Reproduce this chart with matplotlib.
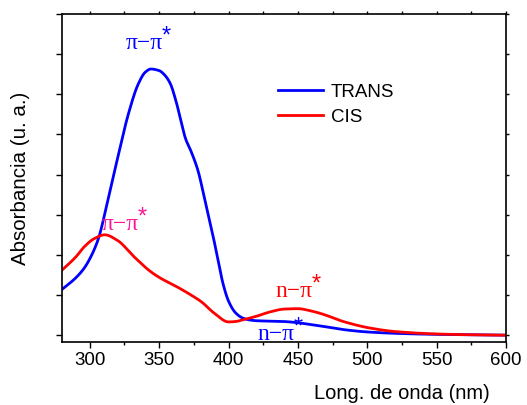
import numpy as np
import matplotlib.pyplot as plt
from matplotlib.ticker import MultipleLocator, NullFormatter

# UV-vis absorption spectra, trans and cis isomers
wl_trans = [280, 290, 296, 300, 306, 313, 320, 328, 335, 340, 344, 350, 354, 358,
            362, 366, 369, 373, 378, 383, 388, 392.5, 396, 400, 405, 410, 415,
            420, 440, 450, 460, 470, 485, 500, 525, 550, 575, 600]
abs_trans = [0.114, 0.143, 0.167, 0.190, 0.238, 0.335, 0.440, 0.553, 0.626, 0.655,
             0.663, 0.659, 0.648, 0.627, 0.585, 0.530, 0.490, 0.458, 0.410, 0.336,
             0.261, 0.187, 0.129, 0.085, 0.056, 0.043, 0.038, 0.036, 0.034, 0.031,
             0.026, 0.021, 0.013, 0.008, 0.004, 0.002, 0.001, 0.000]

wl_cis = [280, 290, 296, 303, 310.8, 320, 332, 344, 351.5, 361, 373, 380.5, 390,
          400, 405, 410, 420, 430, 440, 450, 460, 470, 480, 490, 500, 520, 550,
          575, 600]
abs_cis = [0.162, 0.195, 0.220, 0.240, 0.250, 0.236, 0.195, 0.158, 0.141, 0.124,
           0.100, 0.083, 0.054, 0.033, 0.034, 0.038, 0.047, 0.058, 0.065, 0.066,
           0.060, 0.050, 0.037, 0.027, 0.019, 0.009, 0.003, 0.001, 0.000]


def pchip(x, y, xn):
    # monotone piecewise cubic (Fritsch-Carlson)
    x = np.asarray(x, float)
    y = np.asarray(y, float)
    h = np.diff(x)
    d = np.diff(y) / h
    m = np.zeros_like(y)
    for i in range(1, len(x) - 1):
        if d[i - 1] * d[i] > 0:
            w1 = 2 * h[i] + h[i - 1]
            w2 = h[i] + 2 * h[i - 1]
            m[i] = (w1 + w2) / (w1 / d[i - 1] + w2 / d[i])
    m[0], m[-1] = d[0], d[-1]
    idx = np.clip(np.searchsorted(x, xn) - 1, 0, len(h) - 1)
    t = (xn - x[idx]) / h[idx]
    h00 = 2 * t**3 - 3 * t**2 + 1
    h10 = t**3 - 2 * t**2 + t
    h01 = -2 * t**3 + 3 * t**2
    h11 = t**3 - t**2
    return (h00 * y[idx] + h10 * h[idx] * m[idx] + h01 * y[idx + 1]
            + h11 * h[idx] * m[idx + 1])


xs = np.linspace(280, 600, 1281)
yt = pchip(wl_trans, abs_trans, xs)
yc = pchip(wl_cis, abs_cis, xs)

plt.rcParams['font.family'] = ['Liberation Sans', 'DejaVu Sans']

fig = plt.figure(figsize=(5.27, 4.05), dpi=100)
ax = fig.add_axes([62/527, 1-342/405, 444/527, 328/405])

ax.plot(xs, yt, color='#0000ff', lw=2, label='TRANS')
ax.plot(xs, yc, color='#ff0000', lw=2, label='CIS')

ax.set_xlim(280, 600)
ax.set_ylim(-0.017, 0.8)
ax.xaxis.set_major_locator(MultipleLocator(50))
ax.xaxis.set_minor_locator(MultipleLocator(25))
ax.yaxis.set_major_locator(MultipleLocator(0.1))
ax.yaxis.set_major_formatter(NullFormatter())
ax.tick_params(which='major', direction='out', length=4, width=1, labelsize=13.5,
               left=True, bottom=True)
ax.tick_params(which='minor', direction='out', length=2.5, width=1, bottom=True)
ax.tick_params(which='both', top=True, right=True, labeltop=False, labelright=False)
for t in ax.xaxis.get_major_ticks() + ax.xaxis.get_minor_ticks():
    t.tick2line.set_markersize(2.5)
for t in ax.yaxis.get_major_ticks():
    t.tick2line.set_markersize(2.5)
for s in ax.spines.values():
    s.set_linewidth(1.2)

ax.set_ylabel('Absorbancia (u. a.)', fontsize=14.8)
ax.yaxis.set_label_coords(-0.072, 0.5)
ax.set_xlabel('Long. de onda (nm)', fontsize=14.5)
ax.xaxis.set_label_coords(0.766, -0.128)
ax.xaxis.label.set_va('top')


def transition(x, y, base, color):
    # serif label with an upright sans asterisk raised after it
    t = ax.text(x, y, base, color=color, ha='center', va='center',
                family='Liberation Serif', fontsize=17)
    ax.annotate('*', xy=(1.0, 1.12), xycoords=t, ha='left', va='top',
                xytext=(-0.5, 3.5), textcoords='offset points',
                color=color, fontsize=17, family='Liberation Sans')


transition(339, 0.726, 'π−π', '#0000ff')
transition(322, 0.275, 'π−π', '#ff1493')
transition(447, 0.109, 'n−π', '#ff0000')
transition(434, 0.002, 'n−π', '#0000ff')

ax.legend(loc='upper left', bbox_to_anchor=(0.47, 0.81), frameon=False, fontsize=13.5,
          handlelength=2.4, handletextpad=0.4, labelspacing=0.42, borderaxespad=0)

fig.savefig('out.png', dpi=100)
